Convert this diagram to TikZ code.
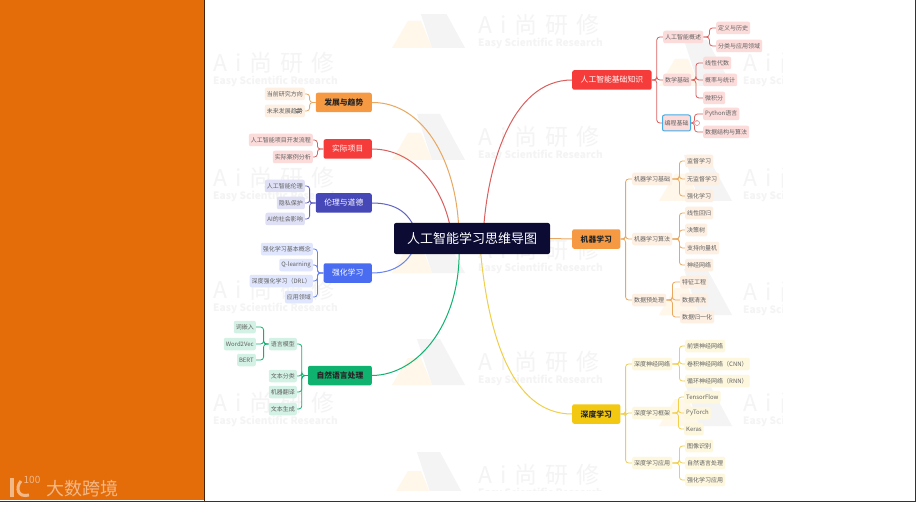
\documentclass[tikz,border=0pt]{standalone}
\usepackage{fontspec}
\setmainfont{Noto Sans CJK SC}
\usepackage{tikz}
\usetikzlibrary{backgrounds}
\definecolor{sidebar}{HTML}{E46D0A}
\definecolor{brandtint}{HTML}{F2B888}
\definecolor{rootbg}{HTML}{0B0B33}
\definecolor{redtop}{HTML}{F53C3A}
\definecolor{redleaf}{HTML}{FCDCDB}
\definecolor{redline}{HTML}{D9605E}
\definecolor{amber}{HTML}{F59A42}
\definecolor{amberleaf}{HTML}{FDEFE2}
\definecolor{amberline}{HTML}{E8A860}
\definecolor{purple}{HTML}{4648B8}
\definecolor{purpleleaf}{HTML}{DFE0F5}
\definecolor{azure}{HTML}{4A6CF0}
\definecolor{azureleaf}{HTML}{E0E6FD}
\definecolor{jade}{HTML}{10B26F}
\definecolor{jadeleaf}{HTML}{D3F1E4}
\definecolor{gold}{HTML}{F2C811}
\definecolor{goldleaf}{HTML}{FDF7DE}
\definecolor{goldline}{HTML}{F0CF4A}
\definecolor{skyring}{HTML}{45ABE5}
\definecolor{wmgray}{HTML}{F4F4F4}
\definecolor{wmpeach}{HTML}{FEF7EA}
\begin{document}
\begin{tikzpicture}[x=1pt, y=-1pt,
    topic/.style={rounded corners=2pt, inner xsep=8.5pt, inner ysep=0pt,
                  minimum height=19.5pt, font=\fontsize{7.8}{9}\selectfont},
    leaf/.style={fill=#1, rounded corners=2pt, inner xsep=2pt, inner ysep=0pt,
                 minimum height=12.5pt, text=black!62, font=\fontsize{6}{7}\selectfont},
    trunk/.style={draw=#1, line width=0.8pt, rounded corners=3pt},
    curve/.style={draw=#1, line width=1pt},
    wmark/.style={text=wmgray, inner sep=0pt, anchor=west}
  ]
  \useasboundingbox (0,0) rectangle (918,505);

  \begin{scope}[on background layer]
    \fill[white] (0,0) rectangle (918,505);
    \fill[sidebar] (0,0) rectangle (204,500);
    \draw[black!70!sidebar, line width=1.2pt] (204.6,0) -- (204.6,501);
    \draw[black!80, line width=1pt] (0,501) -- (915.5,501) -- (915.5,0);
  \end{scope}

  \node[inner sep=0pt, text=brandtint, font=\fontsize{18}{20}\selectfont] (brand) at (82,488.5) {大数跨境};
  \node[inner sep=0pt, text=brandtint, font=\fontsize{10}{11}\selectfont] (hundred) at (32,480) {100};
  \coordinate (stemtop) at (12,478);
  \coordinate (stembot) at (12,497);
  \coordinate (hooktop) at (21,481);
  \coordinate (hookbot) at (29,495);
  \draw[brandtint, line width=4pt] (stemtop) -- (stembot);
  \draw[brandtint, line width=3pt] (hooktop) .. controls (15,488) and (18,498) .. (hookbot);

  \begin{scope}[on background layer]
    \clip (213,15) rectangle (782,490);
    \foreach \wx/\wy in {428/25,428/137,428/250,428/362,428/475,695/63,695/178,695/292,695/403} {
      \fill[wmgray] (\wx-11,\wy-23) -- (\wx+12,\wy-23) -- (\wx+37,\wy+23) -- (\wx+4,\wy+23) -- cycle;
      \fill[wmpeach] (\wx-36,\wy+23) -- (\wx-20,\wy-4) -- (\wx-7,\wy-4) -- (\wx+4,\wy+23) -- cycle;
    }
    \foreach \wx/\wy in {213/63,213/178,213/290,213/403,478/25,478/137,478/250,478/362,478/475,743/63,743/178,743/292,743/403} {
      \node[wmark, font=\fontsize{23}{25}\selectfont\addfontfeatures{LetterSpace=35}] at (\wx,\wy) {Ai尚研修};
      \node[wmark, font=\fontsize{10.2}{12}\selectfont\bfseries] at (\wx,\wy+18) {Easy Scientific Research};
    }
  \end{scope}

  \node[fill=rootbg, rounded corners=2pt, text=white, minimum width=156pt, minimum height=31pt,
        inner sep=0pt, font=\fontsize{13}{15}\selectfont] (root) at (472,238.5) {人工智能学习思维导图};
  \coordinate (hubl) at (459,239);
  \coordinate (hubm) at (452,239);
  \coordinate (hubr) at (483,239);
  \coordinate (hubb) at (459,245);
  \coordinate (huby) at (480,245);
  \coordinate (hube) at (418,239);

  \node[topic, fill=redtop, text=white, anchor=west] (basics) at (572,80) {人工智能基础知识};
  \node[leaf=redleaf, anchor=west] (overview) at (663,37) {人工智能概述};
  \node[leaf=redleaf, anchor=west] (history) at (716,28) {定义与历史};
  \node[leaf=redleaf, anchor=west] (fields) at (716,46) {分类与应用领域};
  \node[leaf=redleaf, anchor=west] (maths) at (663,80) {数学基础};
  \node[leaf=redleaf, anchor=west] (linalg) at (703,63) {线性代数};
  \node[leaf=redleaf, anchor=west] (prob) at (703,80) {概率与统计};
  \node[leaf=redleaf, anchor=west] (calculus) at (703,98) {微积分};
  \node[leaf=redleaf, draw=skyring, line width=1pt, minimum height=16pt, anchor=west] (coding) at (662,123) {编程基础};
  \node[leaf=redleaf, anchor=west] (python) at (703,114) {Python语言};
  \node[leaf=redleaf, anchor=west] (algos) at (703,132) {数据结构与算法};
  \node[circle, draw=redline, fill=white, line width=0.4pt, minimum size=5pt, inner sep=0pt, font=\fontsize{4}{4}\selectfont, text=redline] (fold) at (697,123) {−};

  \node[topic, fill=amber, text=black!85, font=\fontsize{7.8}{9}\selectfont\bfseries, anchor=west] (ml) at (572,239) {机器学习};
  \node[leaf=amberleaf, anchor=west] (mlbase) at (632,179) {机器学习基础};
  \node[leaf=amberleaf, anchor=west] (superv) at (685,161) {监督学习};
  \node[leaf=amberleaf, anchor=west] (unsup) at (685,179) {无监督学习};
  \node[leaf=amberleaf, anchor=west] (reinf) at (685,196) {强化学习};
  \node[leaf=amberleaf, anchor=west] (mlalgo) at (632,239) {机器学习算法};
  \node[leaf=amberleaf, anchor=west] (linreg) at (685,213) {线性回归};
  \node[leaf=amberleaf, anchor=west] (tree) at (685,230) {决策树};
  \node[leaf=amberleaf, anchor=west] (svm) at (685,248) {支持向量机};
  \node[leaf=amberleaf, anchor=west] (nnet) at (685,265) {神经网络};
  \node[leaf=amberleaf, anchor=west] (prep) at (632,300) {数据预处理};
  \node[leaf=amberleaf, anchor=west] (feat) at (680,282) {特征工程};
  \node[leaf=amberleaf, anchor=west] (clean) at (680,300) {数据清洗};
  \node[leaf=amberleaf, anchor=west] (norm) at (680,317) {数据归一化};

  \node[topic, fill=gold, text=black!85, font=\fontsize{7.8}{9}\selectfont\bfseries, anchor=west] (dl) at (572,414) {深度学习};
  \node[leaf=goldleaf, anchor=west] (dnn) at (632,364) {深度神经网络};
  \node[leaf=goldleaf, anchor=west] (ffn) at (685,346) {前馈神经网络};
  \node[leaf=goldleaf, anchor=west] (cnn) at (685,364) {卷积神经网络（CNN）};
  \node[leaf=goldleaf, anchor=west] (rnn) at (685,381) {循环神经网络（RNN）};
  \node[leaf=goldleaf, anchor=west] (frame) at (632,413) {深度学习框架};
  \node[leaf=goldleaf, anchor=west] (tflow) at (684,397) {TensorFlow};
  \node[leaf=goldleaf, anchor=west] (torch) at (684,413) {PyTorch};
  \node[leaf=goldleaf, anchor=west] (keras) at (684,429) {Keras};
  \node[leaf=goldleaf, anchor=west] (usage) at (632,463) {深度学习应用};
  \node[leaf=goldleaf, anchor=west] (vision) at (685,446) {图像识别};
  \node[leaf=goldleaf, anchor=west] (nlpuse) at (685,463) {自然语言处理};
  \node[leaf=goldleaf, anchor=west] (rluse) at (685,480) {强化学习应用};

  \node[topic, fill=amber, text=black!85, font=\fontsize{7.8}{9}\selectfont\bfseries, anchor=east] (trend) at (372,102.5) {发展与趋势};
  \node[leaf=amberleaf, anchor=east] (now) at (305,94) {当前研究方向};
  \node[leaf=amberleaf, anchor=east] (future) at (305,111) {未来发展趋势\hspace{12pt}};

  \node[topic, fill=redtop, text=white, anchor=east] (project) at (372,149) {实际项目};
  \node[leaf=redleaf, anchor=east] (devflow) at (313,140) {人工智能项目开发流程};
  \node[leaf=redleaf, anchor=east] (cases) at (313,157) {实际案例分析};

  \node[topic, fill=purple, text=white, anchor=east] (ethics) at (372,203) {伦理与道德};
  \node[leaf=purpleleaf, anchor=east] (aieth) at (305,186) {人工智能伦理};
  \node[leaf=purpleleaf, anchor=east] (privacy) at (305,203) {隐私保护};
  \node[leaf=purpleleaf, anchor=east] (social) at (305,219) {AI的社会影响};

  \node[topic, fill=azure, text=white, anchor=east] (rl) at (372,273) {强化学习};
  \node[leaf=azureleaf, anchor=east] (rlbase) at (313,249) {强化学习基本概念};
  \node[leaf=azureleaf, anchor=east] (qlearn) at (313,265) {Q-learning};
  \node[leaf=azureleaf, anchor=east] (drl) at (313,281) {深度强化学习（DRL）};
  \node[leaf=azureleaf, anchor=east] (areas) at (313,297) {应用领域};

  \node[topic, fill=jade, text=black!85, font=\fontsize{7.8}{9}\selectfont\bfseries, anchor=east] (nlp) at (372,375.5) {自然语言处理};
  \node[leaf=jadeleaf, anchor=east] (langmod) at (297,344) {语言模型};
  \node[leaf=jadeleaf, anchor=east] (embed) at (256,327) {词嵌入};
  \node[leaf=jadeleaf, anchor=east] (wvec) at (256,344) {Word2Vec};
  \node[leaf=jadeleaf, anchor=east] (bert) at (256,360) {BERT};
  \node[leaf=jadeleaf, anchor=east] (textcls) at (297,376) {文本分类};
  \node[leaf=jadeleaf, anchor=east] (mtrans) at (297,392) {机器翻译};
  \node[leaf=jadeleaf, anchor=east] (textgen) at (297,409) {文本生成};

  \draw[black!50, line width=0.4pt] (296,109.5) -- (302,109.5) (296,111) -- (302,111) (296,112.5) -- (300,112.5);

  \begin{scope}[on background layer]
    \draw[curve=redline] (hubr) .. controls (486,170) and (510,80) .. (basics.west);
    \draw[curve=amberline] (ml.west) -- (root.east);
    \draw[curve=goldline] (huby) .. controls (487,330) and (510,414) .. (dl.west);
    \draw[curve=amberline] (trend.east) .. controls (425,102) and (459,165) .. (hubl);
    \draw[curve=redline] (project.east) .. controls (415,149) and (447,190) .. (hubm);
    \draw[curve=purple!85] (ethics.east) .. controls (395,203) and (412,212) .. (hube);
    \draw[curve=azure!85] (rl.east) .. controls (395,273) and (411,262) .. (hube);
    \draw[curve=jade] (nlp.east) .. controls (420,375) and (462,320) .. (hubb);

    \foreach \kid in {overview,maths,coding}
      \draw[trunk=redline] (basics.east) -- ++(5,0) |- (\kid.west);
    \foreach \kid in {history,fields}
      \draw[trunk=redline] (overview.east) -- ++(6,0) |- (\kid.west);
    \foreach \kid in {linalg,prob,calculus}
      \draw[trunk=redline] (maths.east) -- ++(4.5,0) |- (\kid.west);
    \foreach \kid in {python,algos}
      \draw[trunk=redline] (coding.east) -- ++(3.5,0) |- (\kid.west);

    \foreach \kid in {mlbase,mlalgo,prep}
      \draw[trunk=amberline] (ml.east) -- ++(5,0) |- (\kid.west);
    \foreach \kid in {superv,unsup,reinf}
      \draw[trunk=amberline] (mlbase.east) -- ++(7,0) |- (\kid.west);
    \foreach \kid in {linreg,tree,svm,nnet}
      \draw[trunk=amberline] (mlalgo.east) -- ++(7,0) |- (\kid.west);
    \foreach \kid in {feat,clean,norm}
      \draw[trunk=amberline] (prep.east) -- ++(6,0) |- (\kid.west);

    \foreach \kid in {dnn,frame,usage}
      \draw[trunk=goldline] (dl.east) -- ++(5,0) |- (\kid.west);
    \foreach \kid in {ffn,cnn,rnn}
      \draw[trunk=goldline] (dnn.east) -- ++(7,0) |- (\kid.west);
    \foreach \kid in {tflow,torch,keras}
      \draw[trunk=goldline] (frame.east) -- ++(6,0) |- (\kid.west);
    \foreach \kid in {vision,nlpuse,rluse}
      \draw[trunk=goldline] (usage.east) -- ++(7,0) |- (\kid.west);

    \foreach \kid in {now,future}
      \draw[trunk=amberline] (trend.west) -- ++(-6,0) |- (\kid.east);
    \foreach \kid in {devflow,cases}
      \draw[trunk=redline] (project.west) -- ++(-6,0) |- (\kid.east);
    \foreach \kid in {aieth,privacy,social}
      \draw[trunk=purple!85] (ethics.west) -- ++(-6,0) |- (\kid.east);
    \foreach \kid in {rlbase,qlearn,drl,areas}
      \draw[trunk=azure!85] (rl.west) -- ++(-6,0) |- (\kid.east);
    \foreach \kid in {langmod,textcls,mtrans,textgen}
      \draw[trunk=jade] (nlp.west) -- ++(-6,0) |- (\kid.east);
    \foreach \kid in {embed,wvec,bert}
      \draw[trunk=jade] (langmod.west) -- ++(-5,0) |- (\kid.east);
  \end{scope}
\end{tikzpicture}
\end{document}
